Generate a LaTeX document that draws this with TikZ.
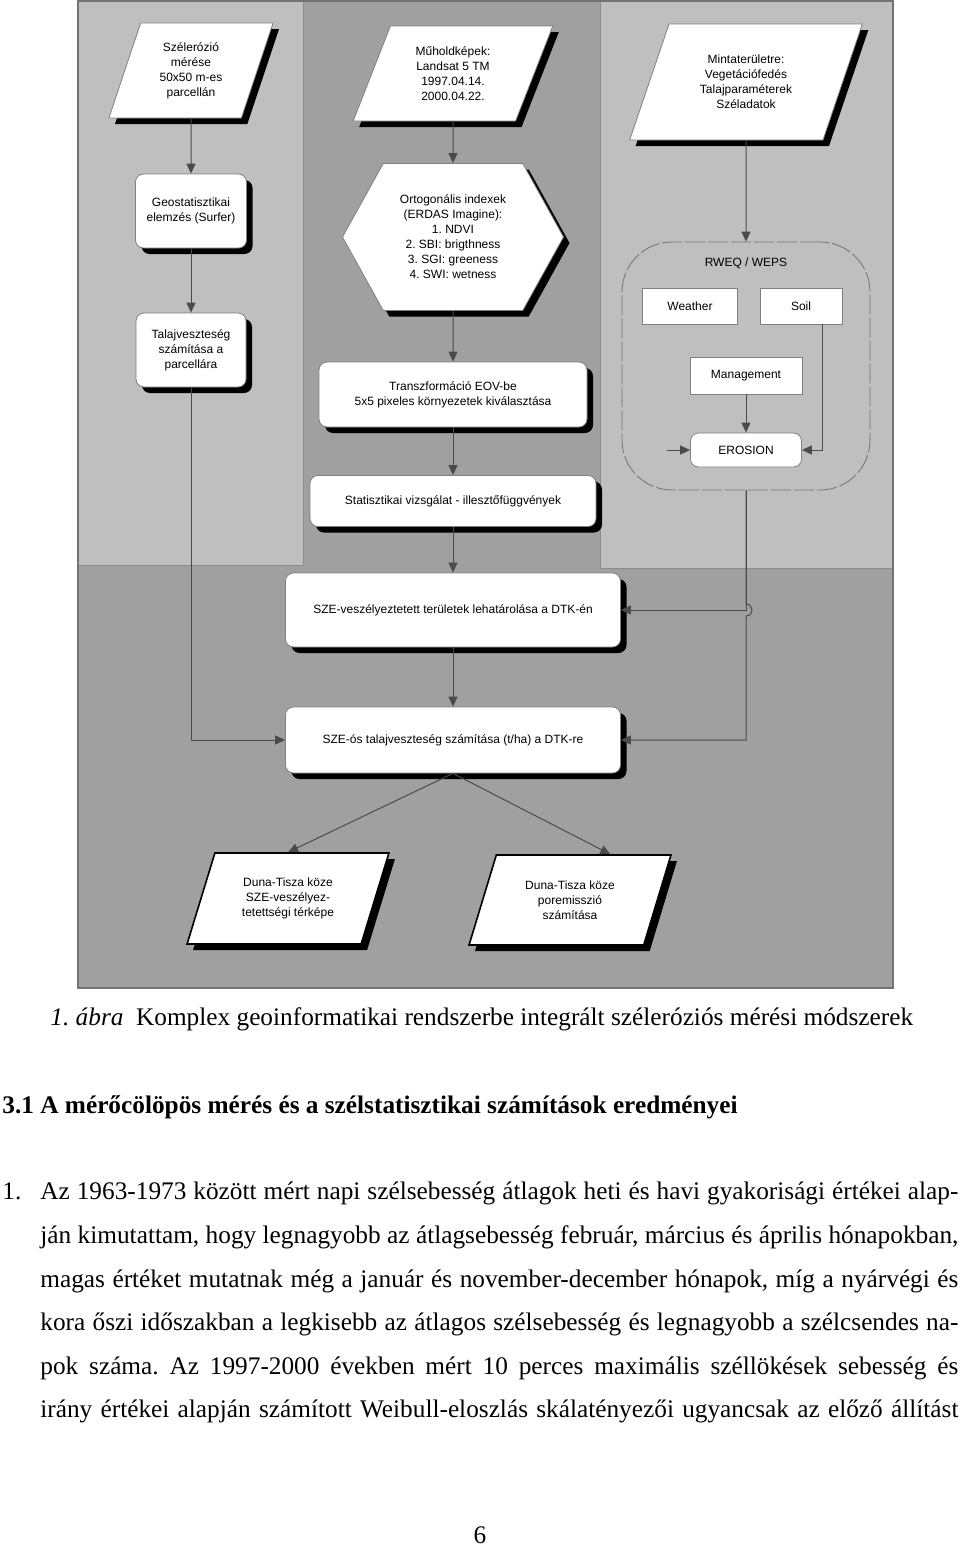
\documentclass[tikz,border=0pt]{standalone}
\usepackage{fontspec}
\setmainfont{Liberation Serif}
\setsansfont{Liberation Sans}
\usepackage{tikz}
\usetikzlibrary{arrows.meta}
\usetikzlibrary{shapes.geometric,shapes.symbols}
\usetikzlibrary{shadows}
\usetikzlibrary{calc}
\frenchspacing
\definecolor{panellight}{RGB}{191,191,191}
\definecolor{paneldark}{RGB}{160,160,160}
\definecolor{linegray}{RGB}{75,75,75}
\newcommand{\diagfont}{\sffamily\fontsize{6}{7.5}\selectfont}
\newcommand{\bodyfont}{\fontsize{12.65}{15}\selectfont}
\newcommand{\paraline}[1]{\makebox[459pt][s]{#1}}
\tikzset{
	conn/.style={draw=linegray, line width=0.5pt, -{Triangle[length=5pt,width=4.5pt]}},
	boxshadow/.style={drop shadow={shadow xshift=3pt, shadow yshift=-3pt, fill=black, opacity=1}},
	databox/.style={trapezium, trapezium left angle=68, trapezium right angle=112,
		trapezium stretches=true, fill=white, draw=black!50, line width=0.4pt,
		boxshadow, align=center, inner sep=1pt, font=\diagfont},
	procbox/.style={rectangle, rounded corners=4pt, fill=white, draw=black!50,
		line width=0.4pt, boxshadow, align=center, font=\diagfont},
	indexbox/.style={signal, signal to=east and west, signal pointer angle=122,
		fill=white, draw=black!50, line width=0.4pt, boxshadow, align=center,
		inner sep=1pt, font=\diagfont},
	modelbox/.style={rectangle, fill=white, draw=black!50, line width=0.4pt,
		align=center, font=\diagfont},
	modelframe/.style={rectangle, rounded corners=25pt, draw=black!55, line width=0.4pt,
		dash pattern=on 10pt off 1.5pt},
}

\begin{document}
\begin{tikzpicture}[x=0.5pt, y=-0.5pt]
\useasboundingbox (0,0) rectangle (960,1547);
% background panels
\fill[paneldark] (78,0) rectangle (893,988);
\fill[panellight] (78,0) rectangle (303,565);
\fill[panellight] (600,0) rectangle (893,568);
\draw[black!45, line width=0.4pt] (78,565) -- (303,565) -- (303,1) (600,1) -- (600,568) -- (893,568);
\draw[black!55, line width=0.6pt] (78,1) rectangle (893,988);

% left column
\node[databox, trapezium left angle=70.8, trapezium right angle=109.2,
	minimum width=82.5pt, minimum height=47.5pt] (szel) at (191,70.5)
	{Szélerózió\\mérése\\50x50 m-es\\parcellán};
\node[procbox, minimum width=55.5pt, minimum height=37pt] (geo) at (191,211)
	{Geostatisztikai\\elemzés (Surfer)};
\node[procbox, minimum width=55pt, minimum height=37pt] (talaj) at (191,350)
	{Talajveszteség\\számítása a\\parcellára};

% middle column
\node[databox, minimum width=100pt, minimum height=47.5pt] (muhold) at (453,73.5)
	{Műholdképek:\\Landsat 5 TM\\1997.04.14.\\2000.04.22.};
\node[indexbox, minimum width=110.5pt, minimum height=73.5pt] (ortho) at (453,237)
	{Ortogonális indexek\\(ERDAS Imagine):\\1. NDVI\\2. SBI: brigthness\\3. SGI: greeness\\4. SWI: wetness};
\node[procbox, minimum width=134pt, minimum height=32.5pt] (transz) at (453,394.5)
	{Transzformáció EOV-be\\5x5 pixeles környezetek kiválasztása};
\node[procbox, minimum width=143pt, minimum height=25.5pt] (stat) at (453,501)
	{Statisztikai vizsgálat - illesztőfüggvények};

% right column
\node[databox, trapezium left angle=67, trapezium right angle=113,
	minimum width=117pt, minimum height=58pt] (minta) at (746,82)
	{Mintaterületre:\\Vegetációfedés\\Talajparaméterek\\Széladatok};
\node[modelframe, minimum width=124pt, minimum height=124pt] (rweq) at (746,366) {};
\node[font=\diagfont] (rweqlabel) at (746,263) {RWEQ / WEPS};
\node[modelbox, minimum width=47.5pt, minimum height=18pt] (weather) at (690,306) {Weather};
\node[modelbox, minimum width=41pt, minimum height=18pt] (soil) at (801,306) {Soil};
\node[modelbox, minimum width=56pt, minimum height=18.5pt] (manage) at (746,375.5) {Management};
\node[modelbox, rounded corners=4pt, minimum width=55.5pt, minimum height=17pt] (erosion) at (746,450) {EROSION};
\coordinate (stub) at (667,450);

% lower part
\node[procbox, minimum width=167.5pt, minimum height=37pt] (veszely) at (453,610)
	{SZE-veszélyeztetett területek lehatárolása a DTK-én};
\node[procbox, minimum width=167.5pt, minimum height=33pt] (szeos) at (453,740)
	{SZE-ós talajveszteség számítása (t/ha) a DTK-re};
\node[databox, draw=black, line width=0.8pt, minimum width=101.5pt, minimum height=45.5pt] (map) at (288,898.5)
	{Duna-Tisza köze\\SZE-veszélyez-\\tetettségi térképe};
\node[databox, draw=black, line width=0.8pt, minimum width=101pt, minimum height=45pt] (emis) at (570,900)
	{Duna-Tisza köze\\poremisszió\\számítása};

% connectors
\draw[conn] (szel) -- (geo);
\draw[conn] (geo) -- (talaj);
\draw[conn] (talaj) |- (szeos);
\draw[conn] (muhold) -- (ortho);
\draw[conn] (ortho) -- (transz);
\draw[conn] (transz) -- (stat);
\draw[conn] (stat) -- (veszely);
\draw[conn] (veszely) -- (szeos);
\draw[conn] (minta) -- (rweq);
\draw[conn] (manage) -- (erosion);
\draw[conn] ($(soil.south)+(21,0)$) |- (erosion);
\draw[conn] (stub) -- (erosion);
\draw[conn] (rweq) |- (veszely);
\coordinate (hop) at (rweq.south |- veszely.east);
\draw[conn] (rweq.south) -- ($(hop)+(0,-6)$) .. controls +(4pt,0) and +(4pt,0) .. ($(hop)+(0,6)$) |- (szeos.east);
\draw[conn] (szeos.south) -- ($(map.top left corner)!0.42!(map.top right corner)$);
\draw[conn] (szeos.south) -- ($(emis.top left corner)!0.65!(emis.top right corner)$);

% text below the figure
\node[anchor=base west, inner sep=0pt, font=\bodyfont] (caption) at (50,1025)
	{\textit{1. ábra}\ \ Komplex geoinformatikai rendszerbe integrált széleróziós mérési módszerek};
\node[anchor=base west, inner sep=0pt, font=\bfseries\bodyfont] (heading) at (2,1113)
	{3.1 A mérőcölöpös mérés és a szélstatisztikai számítások eredményei};
\node[anchor=base west, inner sep=0pt, font=\bodyfont] (num) at (2,1199) {1.};
\node[anchor=base west, inner sep=0pt, font=\bodyfont] (line1) at (40,1199)
	{\paraline{Az 1963-1973 között mért napi szélsebesség átlagok heti és havi gyakorisági értékei alap-}};
\node[anchor=base west, inner sep=0pt, font=\bodyfont] (line2) at (40,1243)
	{\paraline{ján kimutattam, hogy legnagyobb az átlagsebesség február, március és április hónapokban,}};
\node[anchor=base west, inner sep=0pt, font=\bodyfont] (line3) at (40,1287)
	{\paraline{magas értéket mutatnak még a január és november-december hónapok, míg a nyárvégi és}};
\node[anchor=base west, inner sep=0pt, font=\bodyfont] (line4) at (40,1330)
	{\paraline{kora őszi időszakban a legkisebb az átlagos szélsebesség és legnagyobb a szélcsendes na-}};
\node[anchor=base west, inner sep=0pt, font=\bodyfont] (line5) at (40,1374)
	{\paraline{pok száma. Az 1997-2000 években mért 10 perces maximális széllökések sebesség és}};
\node[anchor=base west, inner sep=0pt, font=\bodyfont] (line6) at (40,1417)
	{\paraline{irány értékei alapján számított Weibull-eloszlás skálatényezői ugyancsak az előző állítást}};
\node[anchor=base, inner sep=0pt, font=\bodyfont] (pagenum) at (480,1543) {6};
\end{tikzpicture}
\end{document}
